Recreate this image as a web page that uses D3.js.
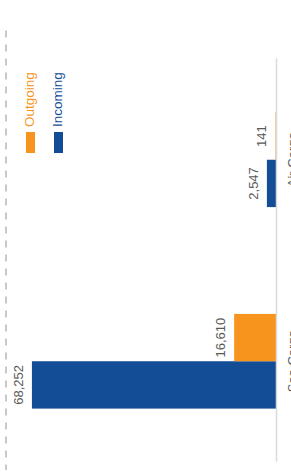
<!DOCTYPE html>
<html>
<head>
<meta charset="utf-8">
<script src="https://cdn.jsdelivr.net/npm/d3@7"></script>
<style>
body { margin: 0; background: #fff; }
svg { display: block; font-family: "Liberation Sans", Arial, sans-serif; }
</style>
</head>
<body>
<div id="chart"></div>
<script>
// data
const categories = ["Sea Cargo", "Air Cargo"]
const seriesNames = ["Incoming", "Outgoing"]
const incoming = [68252, 2547]
const outgoing = [11700, 141]   // bar lengths as drawn in the picture
const incomingLabels = ["68,252", "2,547"]
const outgoingLabels = ["16,610", "141"]
const legendOrder = ["Outgoing", "Incoming"]
const colors = { Incoming: "#134d96", Outgoing: "#f7941e" }

const width = 291, height = 472

const svg = d3.select("#chart").append("svg")
    .attr("width", width)
    .attr("height", height)

// whole chart is turned on its side
const g = svg.append("g").attr("transform", `translate(0,${height}) rotate(-90)`)

const x = d3.scaleBand()
    .domain(categories)
    .range([10, 413])
    .paddingInner(0.53)
    .paddingOuter(0.265)
const sub = d3.scaleBand().domain(seriesNames).range([0, x.bandwidth()])
const y = d3.scaleLinear().domain([0, 75500]).range([276, 6])

// dashed frame line at the top of the value range
g.append("line")
    .attr("x1", 441.5).attr("x2", 2)
    .attr("y1", y(75500)).attr("y2", y(75500))
    .attr("stroke", "#c8c8c8")
    .attr("stroke-width", 2)
    .attr("stroke-dasharray", "7,7")

const rows = categories.map((c, i) => [
    { cat: c, s: "Incoming", v: incoming[i], label: incomingLabels[i] },
    { cat: c, s: "Outgoing", v: outgoing[i], label: outgoingLabels[i] }
]).flat()

g.selectAll(".bar").data(rows).enter()
    .append("rect")
    .attr("class", "bar")
    .attr("x", d => x(d.cat) + sub(d.s))
    .attr("width", sub.bandwidth())
    .attr("y", d => y(d.v))
    .attr("height", d => y(0) - y(d.v))
    .attr("fill", d => colors[d.s])

g.selectAll(".lbl").data(rows).enter()
    .append("text")
    .attr("class", "lbl")
    .attr("x", d => x(d.cat) + sub(d.s) + sub.bandwidth() / 2)
    .attr("y", d => y(d.v) - 9)
    .attr("text-anchor", "middle")
    .attr("font-size", "13px")
    .attr("fill", "#595959")
    .text(d => d.label)

// category axis (labels run off the right edge, as in the original)
const axis = g.append("g")
    .attr("transform", `translate(0,${y(0)})`)
    .call(d3.axisBottom(x).tickSize(0).tickPadding(12))
axis.select(".domain").attr("stroke", "#d9d9d9").attr("stroke-width", 1.5)
axis.selectAll("text")
    .attr("font-size", "13px")
    .attr("font-family", "Liberation Sans, Arial, sans-serif")
    .attr("fill", "#595959")

// legend
const legend = g.selectAll(".leg").data(legendOrder).enter()
    .append("g")
    .attr("class", "leg")
    .attr("transform", (d, i) => `translate(319,${26 + i * 28})`)
legend.append("rect")
    .attr("width", 21)
    .attr("height", 9)
    .attr("fill", d => colors[d])
legend.append("text")
    .attr("x", 26)
    .attr("y", 8)
    .attr("font-size", "13.5px")
    .attr("fill", d => colors[d])
    .text(d => d)
</script>
</body>
</html>
